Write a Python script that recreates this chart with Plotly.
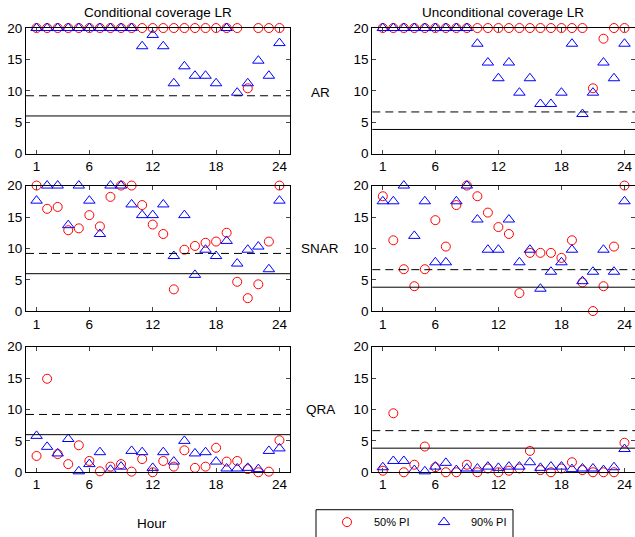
import plotly.graph_objects as go
from plotly.subplots import make_subplots

hours = list(range(1, 25))
xtick_vals = [1, 6, 12, 18, 24]
ytick_vals = [0, 5, 10, 15, 20]
col_titles = ["Conditional coverage LR", "Unconditional coverage LR"]
row_labels = ["AR", "SNAR", "QRA"]
series_names = ["50% PI", "90% PI"]

# Critical values (99% dashed, 95% solid) for conditional / unconditional tests
crit_99 = [9.21, 6.63]
crit_95 = [5.99, 3.84]

# Conditional coverage LR
cc_ar_50 = [20]*20 + [10.4, 20, 20, 20]
cc_ar_90 = [20]*10 + [17.1, 18.9, 17.1, 11.2, 13.9, 12.4, 12.4, 11.2, 20, 9.7, 11.2, 14.8, 12.4, 17.6]
cc_snar_50 = [20, 16.3, 16.6, 12.9, 13.2, 15.3, 13.5, 18.2, 20, 20, 16.9, 13.8, 12.3, 3.5, 9.8, 10.4,
              10.9, 11.1, 12.5, 4.7, 2.1, 4.3, 11.1, 20]
cc_snar_90 = [17.6, 20, 20, 13.7, 20, 17.6, 12.3, 20, 20, 17.0, 15.3, 15.3, 17.0, 8.8, 15.3, 5.8,
              9.8, 8.8, 11.2, 7.6, 9.8, 10.3, 6.7, 17.6]
cc_qra_50 = [2.6, 14.9, 2.9, 1.3, 4.3, 1.8, 0.15, 0.9, 1.3, 0.1, 2.1, 0.0, 1.8, 0.9, 3.5, 0.7,
             0.9, 3.9, 1.7, 1.8, 0.5, 0.0, 0.1, 5.1]
cc_qra_90 = [5.8, 4.05, 3.0, 5.3, 0.15, 1.3, 3.2, 0.4, 0.9, 3.4, 3.2, 0.7, 3.2, 1.7, 5.0, 3.0,
             3.2, 1.7, 0.6, 0.6, 0.7, 0.5, 3.4, 3.8]

# Unconditional coverage LR
uc_ar_50 = [20]*20 + [10.4, 18.3, 20, 20]
uc_ar_90 = [20]*9 + [17.5, 14.5, 12.0, 14.5, 9.7, 12.0, 7.9, 7.9, 9.7, 17.5, 6.3, 9.7, 14.5, 12.0, 17.5]
uc_snar_50 = [18.3, 11.3, 6.7, 4.0, 6.7, 14.5, 10.3, 16.9, 20, 18.3, 15.7, 13.4, 12.3, 2.9, 9.3, 9.3,
              9.3, 8.5, 11.3, 4.6, 0.05, 4.0, 10.3, 20]
uc_snar_90 = [17.5, 17.5, 20, 12.0, 17.5, 7.8, 7.8, 17.5, 20, 14.6, 9.8, 9.8, 14.6, 7.8, 9.8, 3.6,
              6.3, 7.8, 9.8, 4.8, 6.3, 9.8, 6.3, 17.5]
uc_qra_50 = [0.25, 9.4, 0, 1.2, 4.1, 0.8, 0, 0, 1.2, 0, 0.6, 0, 0.25, 0.6, 3.4, 0.35,
             0, 0.6, 1.6, 0.35, 0, 0, 0, 4.7]
uc_qra_90 = [0.8, 1.8, 1.8, 0.35, 0.15, 0.9, 1.5, 0.35, 0.6, 0.6, 0.9, 0.7, 0.9, 0.9, 1.6, 0.7,
             0.9, 0.9, 0.5, 0.6, 0.6, 0.35, 0.8, 3.7]

data = [
    [(cc_ar_50, cc_ar_90), (uc_ar_50, uc_ar_90)],
    [(cc_snar_50, cc_snar_90), (uc_snar_50, uc_snar_90)],
    [(cc_qra_50, cc_qra_90), (uc_qra_50, uc_qra_90)],
]

W, H = 635, 537

def px(X):
    return X / W

def py(Y):
    return 1 - Y / H

col_px = [(26, 290), (372.3, 635)]
row_px = [(28.3, 155), (187.3, 314.3), (350, 476.7)]
row_label_y = [93, 251, 413.4]

fig = make_subplots(rows=3, cols=2)

FONT = "Liberation Sans, Arial, Helvetica, sans-serif"
FS = 13.5

for r in range(3):
    for c in range(2):
        v50, v90 = data[r][c]
        first = (r == 0 and c == 0)
        fig.add_trace(go.Scatter(
            x=hours, y=v50, mode="markers", name=series_names[0], showlegend=first,
            cliponaxis=False,
            marker=dict(symbol="circle-open", size=9, color="#ff0000", line=dict(width=1, color="#ff0000"))),
            row=r+1, col=c+1)
        fig.add_trace(go.Scatter(
            x=hours, y=v90, mode="markers", name=series_names[1], showlegend=first,
            cliponaxis=False,
            marker=dict(symbol="triangle-up-open", size=10, color="#0000ff", line=dict(width=1, color="#0000ff"))),
            row=r+1, col=c+1)
        fig.add_hline(y=crit_99[c], line=dict(color="#000000", width=1, dash="8px,5px"), row=r+1, col=c+1)
        fig.add_hline(y=crit_95[c], line=dict(color="#000000", width=1), row=r+1, col=c+1)

for r in range(3):
    for c in range(2):
        idx = r*2 + c + 1
        xa = "xaxis" if idx == 1 else f"xaxis{idx}"
        ya = "yaxis" if idx == 1 else f"yaxis{idx}"
        x0, x1 = col_px[c]
        y0, y1 = row_px[r]
        fig.layout[xa].update(
            domain=[px(x0), min(1.0, px(x1))], range=[0, 25], tickvals=xtick_vals, ticks="inside", ticklen=4,
            showline=True, linecolor="black", linewidth=1, mirror="ticks", showgrid=False,
            zeroline=False, tickfont=dict(size=FS, color="black", family=FONT), automargin=False)
        fig.layout[ya].update(
            domain=[py(y1), py(y0)], range=[0, 20], tickvals=ytick_vals, ticks="inside", ticklen=4,
            showline=True, linecolor="black", linewidth=1, mirror="ticks", showgrid=False,
            zeroline=False, tickfont=dict(size=FS, color="black", family=FONT), automargin=False)

annotations = []
title_cx = [158, 503]
for c in range(2):
    annotations.append(dict(text=col_titles[c], x=px(title_cx[c]), y=py(12.5), xref="paper", yref="paper",
                            showarrow=False, xanchor="center", yanchor="middle",
                            font=dict(size=FS, color="black", family=FONT)))
for r in range(3):
    annotations.append(dict(text=row_labels[r], x=px(320), y=py(row_label_y[r]), xref="paper", yref="paper",
                            showarrow=False, xanchor="center", yanchor="middle",
                            font=dict(size=FS, color="black", family=FONT)))
annotations.append(dict(text="Hour", x=px(152), y=py(528), xref="paper", yref="paper",
                        showarrow=False, xanchor="center", yanchor="middle",
                        font=dict(size=FS, color="black", family=FONT)))

fig.update_layout(
    width=W, height=H, margin=dict(l=0, r=0, t=0, b=0),
    paper_bgcolor="white", plot_bgcolor="white",
    font=dict(family=FONT, size=FS, color="black"),
    annotations=annotations,
    showlegend=True,
    legend=dict(orientation="h", x=px(320), y=py(527), xanchor="left", yanchor="middle",
                borderwidth=0, bgcolor="rgba(0,0,0,0)", itemwidth=44,
                font=dict(size=11, color="black", family=FONT), entrywidth=38, entrywidthmode="pixels"),
)

# legend frame (its bottom edge lies outside the picture, as in the reference)
fig.add_shape(type="rect", xref="paper", yref="paper", x0=px(316), x1=px(513), y0=py(560), y1=py(514.5),
              line=dict(color="black", width=1), fillcolor="rgba(0,0,0,0)", layer="above")

fig.write_html("out.html", config={"displayModeBar": False},
               post_script="document.body.style.margin='0';document.body.style.overflow='hidden';")
